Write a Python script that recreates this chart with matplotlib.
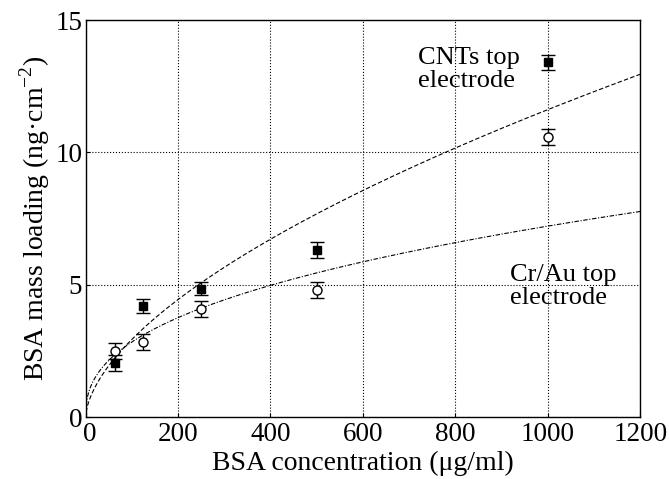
import numpy as np
import matplotlib
matplotlib.use("Agg")
import matplotlib.pyplot as plt
from matplotlib.transforms import ScaledTranslation

plt.rcParams['font.family'] = ['Liberation Serif', 'DejaVu Serif']
plt.rcParams['mathtext.fontset'] = 'custom'
plt.rcParams['mathtext.rm'] = 'Liberation Serif'

conc = [62.5, 125, 250, 500, 1000]
cnt_vals = [2.05, 4.2, 4.85, 6.3, 13.4]
cnt_err = [0.3, 0.25, 0.25, 0.3, 0.27]
crau_vals = [2.5, 2.85, 4.1, 4.8, 10.6]
crau_err = [0.3, 0.3, 0.3, 0.3, 0.3]
# power-law fit parameters y = a * x^b
cnt_fit = (0.188, 0.597)
crau_fit = (0.44, 0.405)
xticks = [0, 200, 400, 600, 800, 1000, 1200]
yticks = [0, 5, 10, 15]

fig = plt.figure(figsize=(6.69, 4.79), dpi=100)
ax = fig.add_axes([0.128, 0.129, 0.829, 0.829])

xf = np.linspace(1, 1200, 400)
ax.plot(xf, cnt_fit[0] * xf ** cnt_fit[1], color='black', lw=0.8, ls=(0, (4, 2)))
ax.plot(xf, crau_fit[0] * xf ** crau_fit[1], color='black', lw=0.8, ls=(0, (4, 1.5, 1, 1.5)))

ax.errorbar(conc, cnt_vals, yerr=cnt_err, fmt='s', color='black', ms=6,
            capsize=5, elinewidth=1, capthick=1)
ax.errorbar(conc, crau_vals, yerr=crau_err, fmt='o', mfc='white', mec='black',
            color='black', ms=6.5, capsize=5, elinewidth=1, capthick=1)

ax.set_xlim(0, 1200)
ax.set_ylim(0, 15)
ax.set_xticks(xticks)
ax.set_yticks(yticks)
ax.tick_params(direction='in', length=3, labelsize=19.5, top=False, right=False)
ax.tick_params(axis='x', pad=3.5)
ax.tick_params(axis='y', pad=2.5)
ax.grid(True, color='black', ls=':', lw=0.8)
ax.set_axisbelow(True)
for s in ax.spines.values():
    s.set_linewidth(1.0)

# nudge the x "0" label right, as in the reference
first = ax.xaxis.get_major_ticks()[0].label1
first.set_transform(first.get_transform() + ScaledTranslation(4 / 100, 0, fig.dpi_scale_trans))

ax.set_xlabel('BSA concentration (\u03bcg/ml)', fontsize=20, labelpad=3)
ax.set_ylabel('BSA mass loading (ng\u00b7cm$^{-2}$)', fontsize=20, labelpad=2)

ax.text(720, 13.15, 'CNTs top\nelectrode', fontsize=19, ha='left', va='center', linespacing=1.05)
ax.text(918, 4.95, 'Cr/Au top\nelectrode', fontsize=19, ha='left', va='center', linespacing=1.05)

fig.savefig('out.png', dpi=100)
